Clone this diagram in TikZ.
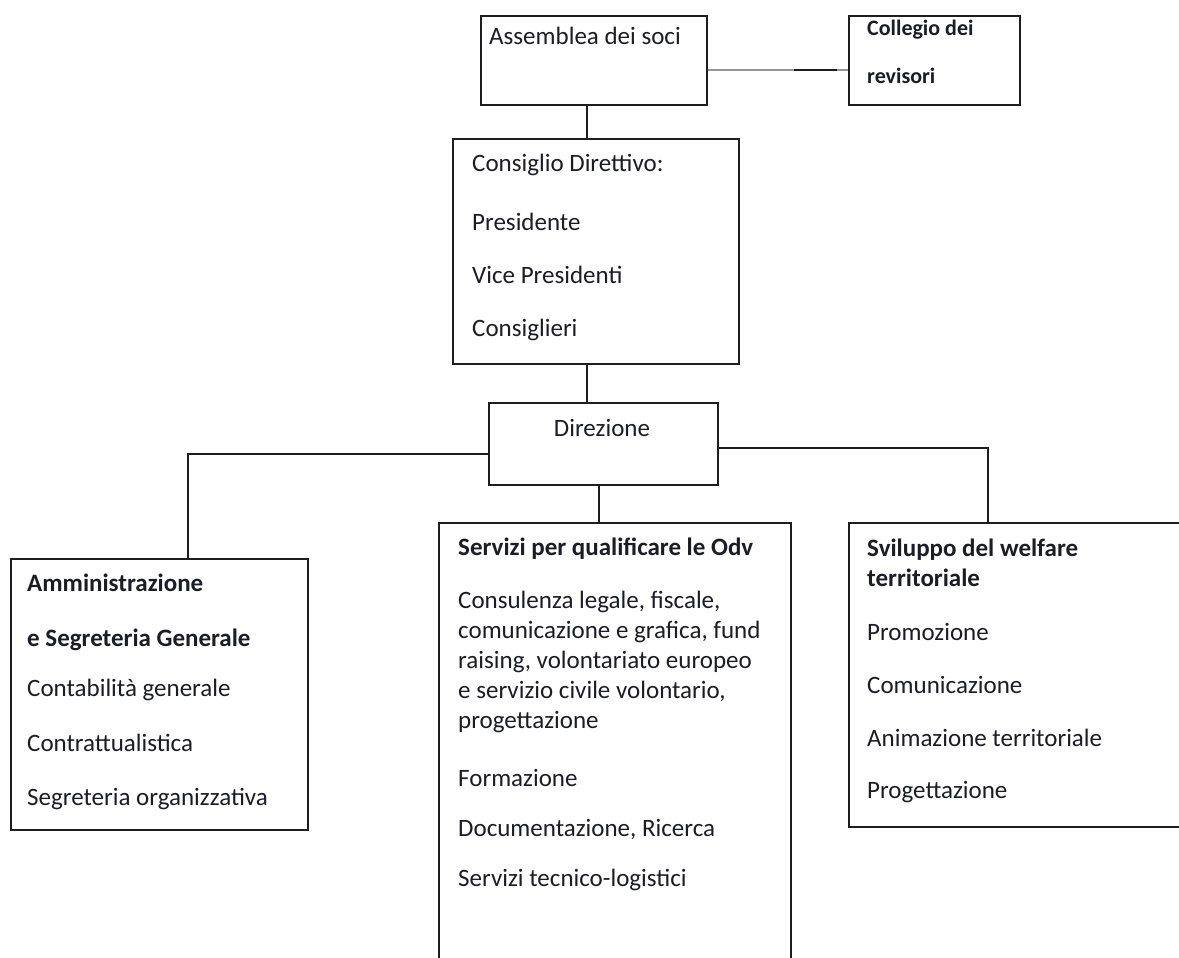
\documentclass[tikz,border=0pt]{standalone}
\usepackage{fontspec}
\setmainfont{Carlito}
\definecolor{ink}{RGB}{28,28,38}
\definecolor{edge}{RGB}{30,30,30}
\definecolor{greyline}{RGB}{150,150,150}
\tikzset{
  box/.style={draw=edge, line width=1.7pt, rectangle, inner sep=0pt, anchor=north west},
  txt/.style={anchor=base west, inner sep=0pt, text=ink, font=\fontsize{25}{30}\selectfont},
  btxt/.style={txt, font=\fontsize{25}{30}\selectfont\bfseries},
  stxt/.style={anchor=base west, inner sep=0pt, text=ink, font=\fontsize{22}{26}\selectfont\bfseries},
  conn/.style={draw=edge, line width=1.7pt}
}
\begin{document}
\begin{tikzpicture}[x=1pt,y=-1pt]
\useasboundingbox (0,0) rectangle (1179,958);
\fill[white] (0,0) rectangle (1179,958);
\clip (0,0) rectangle (1179,958);

% boxes
\node[box, minimum width=226pt, minimum height=89pt] (asm) at (480,15) {};
\node[box, minimum width=171pt, minimum height=89pt] (col) at (848,15) {};
\node[box, minimum width=286pt, minimum height=225pt] (cons) at (452,138) {};
\node[box, minimum width=229pt, minimum height=82pt] (dir) at (488,402) {};
\node[box, minimum width=297pt, minimum height=271pt] (adm) at (10,558) {};
\node[box, minimum width=352pt, minimum height=460pt] (srv) at (438,522) {};
\node[box, minimum width=350pt, minimum height=304pt] (svl) at (848,522) {};

% connector helpers
\coordinate (vx) at (587,0);
\coordinate (mx) at (599,0);
\coordinate (lx) at (188,454);
\coordinate (rx) at (988,448);
\coordinate (k1) at (794,0);
\coordinate (k2) at (837,0);

% connectors
\draw[draw=greyline, line width=1.7pt] (asm.east |- 0,70) -- (col.west |- 0,70);
\draw[conn] (k1 |- 0,70) -- (k2 |- 0,70);
\draw[conn] (asm.south -| vx) -- (cons.north -| vx);
\draw[conn] (cons.south -| vx) -- (dir.north -| vx);
\draw[conn] (dir.west |- lx) -| (adm.north -| lx);
\draw[conn] (dir.south -| mx) -- (srv.north -| mx);
\draw[conn] (dir.east |- rx) -| (svl.north -| rx);

% texts
\node[txt] (tasm) at (489,45) {Assemblea dei soci};
\node[stxt] (tcol1) at (867,36) {Collegio dei};
\node[stxt] (tcol2) at (867,84) {revisori};

\node[txt] (tc1) at (472,171) {Consiglio Direttivo:};
\node[txt] (tc2) at (472,230) {Presidente};
\node[txt] (tc3) at (472,283) {Vice Presidenti};
\node[txt] (tc4) at (472,336) {Consiglieri};

\node[txt, anchor=base] (tdir) at (602,436) {Direzione};

\node[btxt] (ta1) at (27,591) {Amministrazione};
\node[btxt] (ta2) at (27,646) {e Segreteria Generale};
\node[txt] (ta3) at (27,696) {Contabilità generale};
\node[txt] (ta4) at (27,751) {Contrattualistica};
\node[txt] (ta5) at (27,805) {Segreteria organizzativa};

\node[btxt] (ts1) at (458,555) {Servizi per qualificare le Odv};
\node[txt] (ts2) at (458,608) {Consulenza legale, fiscale,};
\node[txt] (ts3) at (458,638) {comunicazione e grafica, fund};
\node[txt] (ts4) at (458,668) {raising, volontariato europeo};
\node[txt] (ts5) at (458,698) {e servizio civile volontario,};
\node[txt] (ts6) at (458,728) {progettazione};
\node[txt] (ts7) at (458,786) {Formazione};
\node[txt] (ts8) at (458,836) {Documentazione, Ricerca};
\node[txt] (ts9) at (458,886) {Servizi tecnico-logistici};

\node[btxt] (tv1) at (867,556) {Sviluppo del welfare};
\node[btxt] (tv2) at (867,586) {territoriale};
\node[txt] (tv3) at (867,640) {Promozione};
\node[txt] (tv4) at (867,693) {Comunicazione};
\node[txt] (tv5) at (867,746) {Animazione territoriale};
\node[txt] (tv6) at (867,798) {Progettazione};
\end{tikzpicture}
\end{document}
